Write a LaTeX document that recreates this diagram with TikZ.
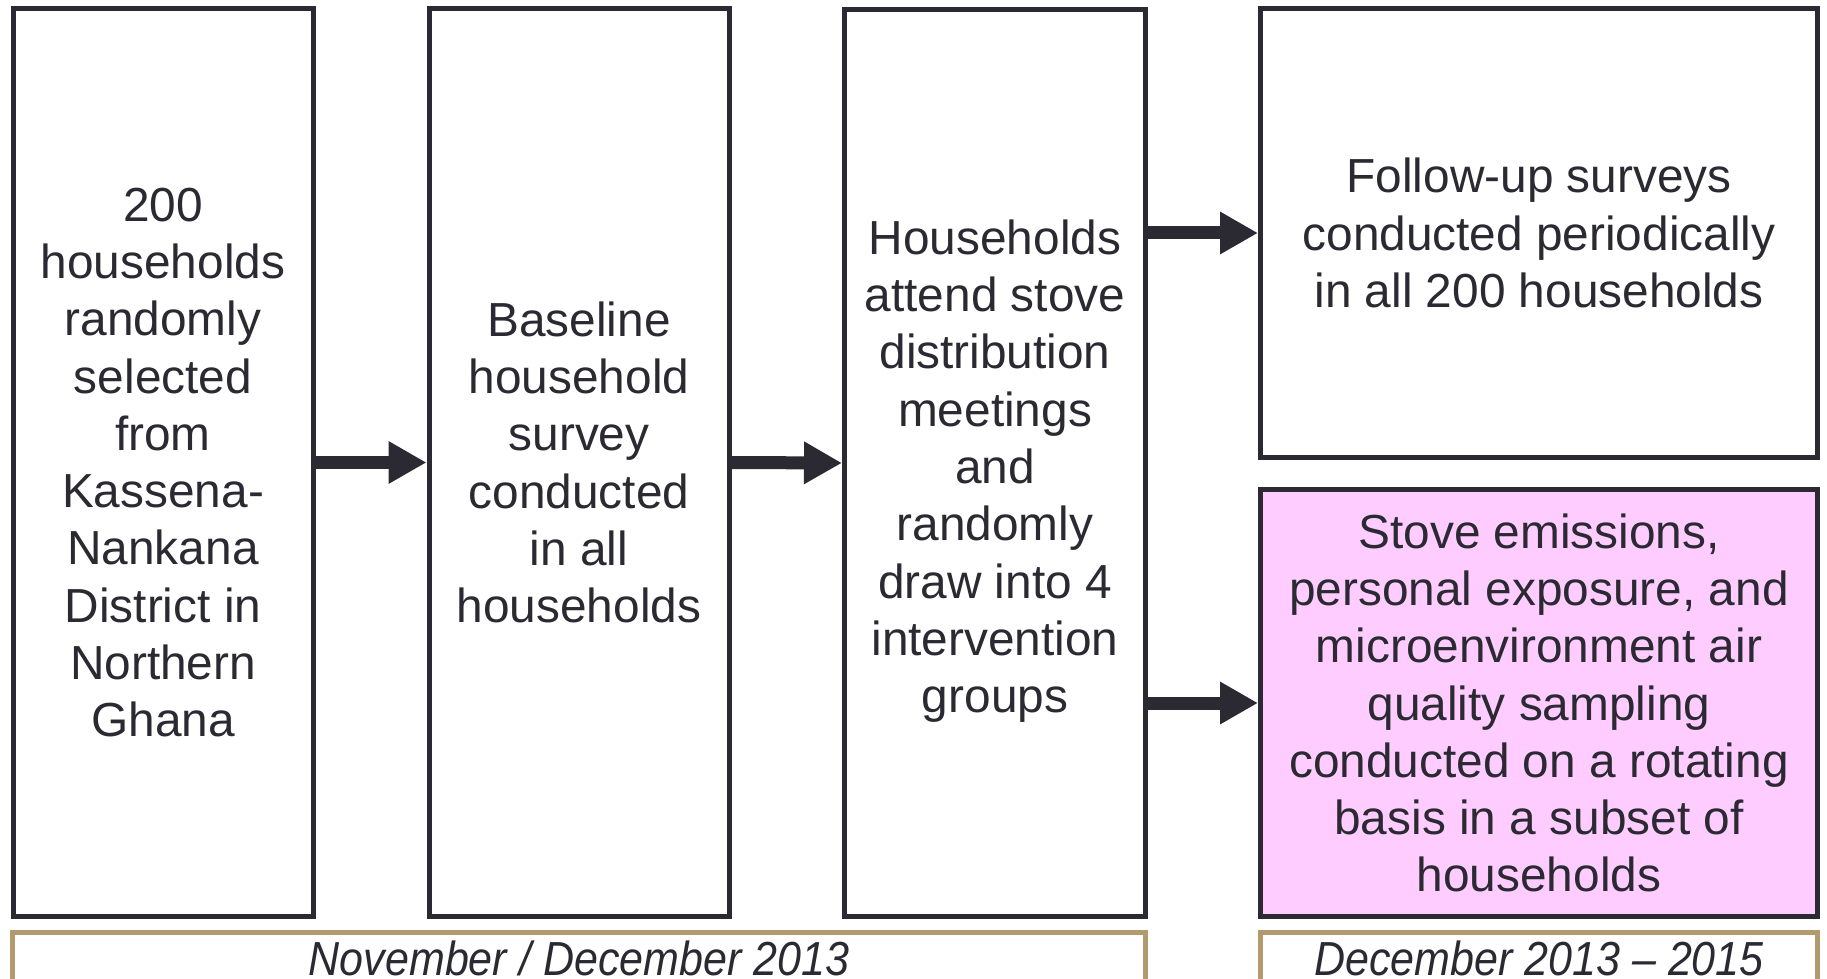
\documentclass[tikz,border=0pt]{standalone}
\usepackage{fontspec}
\setmainfont{Liberation Sans}
\newfontfamily\datefont[FakeStretch=0.9,Ligatures=TeX]{Liberation Sans}
\usepackage{tikz}
\usetikzlibrary{arrows.meta,calc,positioning}
\definecolor{boxline}{HTML}{2B2A33}
\definecolor{stovepink}{HTML}{FFCCFF}
\definecolor{datetan}{HTML}{B39A6E}
\tikzset{
  stepbox/.style={draw=boxline,line width=0.5mm,fill=white,align=center,text=boxline,
    font=\fontsize{13.6}{16.3}\selectfont,inner sep=0pt},
  datebar/.style={draw=datetan,line width=0.5mm,fill=white,text=boxline,
    font=\datefont\fontsize{13.6}{16.3}\selectfont\itshape,inner sep=0pt},
  flow/.style={line width=1.3mm,boxline,-{Triangle[length=3.8mm,width=4mm]}}
}

\begin{document}
\begin{tikzpicture}
\clip (0,0) rectangle (18.27,-9.79);
\useasboundingbox (0,0) rectangle (18.27,-9.79);
\node[stepbox,minimum width=3.0cm,minimum height=9.08cm] (b1) at (1.63,-4.625)
  {200\\households\\randomly\\selected\\from\\Kassena-\\Nankana\\District in\\Northern\\Ghana};
\node[stepbox,minimum width=3.0cm,minimum height=9.08cm] (b2) at (5.79,-4.625)
  {Baseline\\household\\survey\\conducted\\in all\\households};
\node[stepbox,minimum width=3.01cm,minimum height=9.07cm] (b3) at (9.95,-4.63)
  {\rule{0pt}{14.5pt}Households\\attend stove\\distribution\\meetings\\and\\randomly\\draw into 4\\intervention\\groups};
\node[stepbox,minimum width=5.57cm,minimum height=4.49cm] (b4) at (15.39,-2.33)
  {Follow-up surveys\\conducted periodically\\in all 200 households};
\node[stepbox,fill=stovepink,minimum width=5.57cm,minimum height=4.27cm] (b5) at (15.39,-7.03)
  {Stove emissions,\\personal exposure, and\\microenvironment air\\quality sampling\\conducted on a rotating\\basis in a subset of\\households};
\node[datebar,minimum width=11.33cm,minimum height=0.52cm] (d1) at (5.79,-9.58)
  {November / December 2013};
\node[datebar,minimum width=5.57cm,minimum height=0.52cm] (d2) at (15.39,-9.58)
  {December 2013 – 2015};
\draw[flow] (b1.east) -- (b2.west);
\draw[flow] (b2.east) -- (b3.west);
\draw[flow] (b4.west -| b3.east) -- (b4.west);
\draw[flow] (b5.west -| b3.east) -- (b5.west);
\end{tikzpicture}
\end{document}
